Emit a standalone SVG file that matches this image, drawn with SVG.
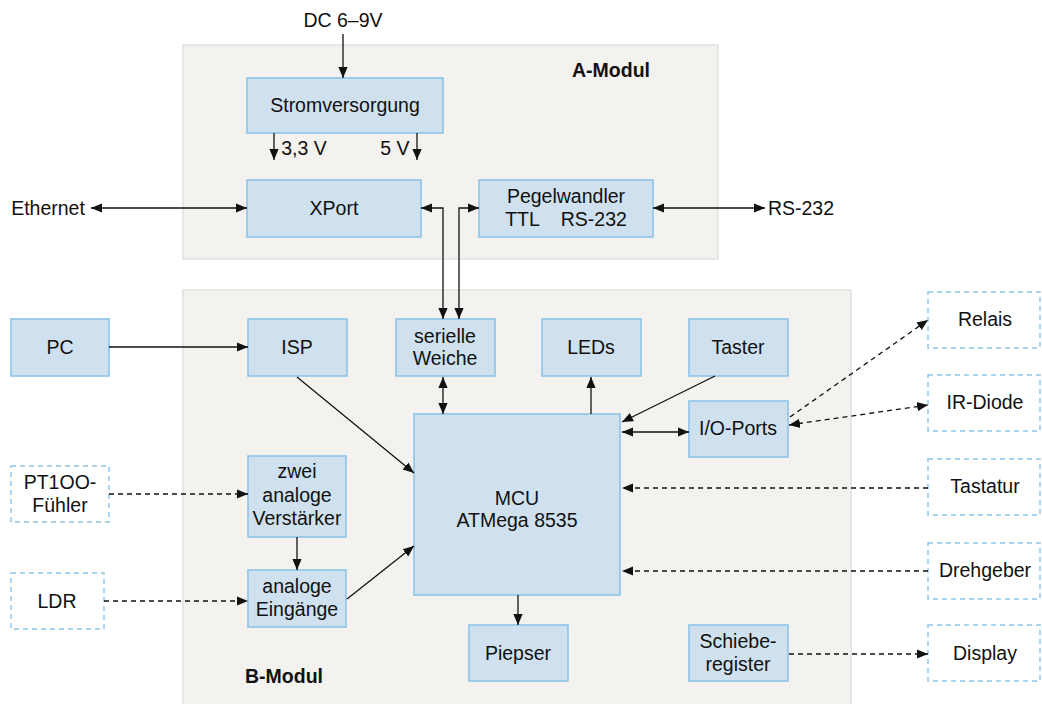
<svg xmlns="http://www.w3.org/2000/svg" width="1042" height="704" viewBox="0 0 1042 704">
  <defs>
    <marker id="arr" viewBox="0 0 10 10" refX="10" refY="5" markerWidth="11" markerHeight="11" markerUnits="userSpaceOnUse" orient="auto-start-reverse">
      <path d="M0,0.8 L10,5 L0,9.2 Z" fill="#111"/>
    </marker>
  </defs>
  <style>
    .panel { fill: #f3f2ef; stroke: #e2e1dd; stroke-width: 1.5; }
    .box { fill: #cfe1ef; stroke: #8cc4e8; stroke-width: 1.6; }
    .ext { fill: #ffffff; stroke: #8cc4e8; stroke-width: 1.4; stroke-dasharray: 5 4; }
    .t { font-family: "Liberation Sans", Arial, sans-serif; font-size: 19.5px; fill: #111; text-anchor: middle; }
    .b { font-family: "Liberation Sans", Arial, sans-serif; font-size: 19.5px; font-weight: bold; fill: #111; }
    .ln { fill: none; stroke: #111; stroke-width: 1.3; }
    .dash { stroke-dasharray: 5 4; }
  </style>

  <!-- module panels -->
  <rect class="panel" x="183" y="45" width="535" height="214"/>
  <rect class="panel" x="183" y="290" width="668" height="420"/>
  <text class="b" x="572" y="77">A-Modul</text>
  <text class="b" x="245" y="683">B-Modul</text>

  <!-- A-Modul nodes -->
  <g id="dc"><text class="t" x="343" y="27">DC 6–9V</text></g>
  <g id="strom"><rect class="box" x="247" y="78" width="196" height="55"/><text class="t" x="345" y="112">Stromversorgung</text></g>
  <g id="v33"><text class="t" x="304" y="155">3,3 V</text></g>
  <g id="v5"><text class="t" x="395" y="155">5 V</text></g>
  <g id="xport"><rect class="box" x="247" y="180" width="174" height="57"/><text class="t" x="334" y="215">XPort</text></g>
  <g id="pegel"><rect class="box" x="479" y="180" width="174" height="57"/><text class="t" x="566" y="203">Pegelwandler</text><text class="t" x="566" y="226" xml:space="preserve">TTL    RS-232</text></g>
  <g id="ethernet"><text class="t" x="48" y="215">Ethernet</text></g>
  <g id="rs232"><text class="t" x="801" y="215">RS-232</text></g>

  <!-- B-Modul nodes -->
  <g id="pc"><rect class="box" x="11" y="319" width="98" height="57"/><text class="t" x="60" y="354">PC</text></g>
  <g id="isp"><rect class="box" x="248" y="319" width="99" height="57"/><text class="t" x="297" y="354">ISP</text></g>
  <g id="weiche"><rect class="box" x="396" y="319" width="99" height="57"/><text class="t" x="445" y="343">serielle</text><text class="t" x="445" y="365">Weiche</text></g>
  <g id="leds"><rect class="box" x="542" y="319" width="99" height="57"/><text class="t" x="591" y="354">LEDs</text></g>
  <g id="taster"><rect class="box" x="689" y="319" width="99" height="57"/><text class="t" x="738" y="354">Taster</text></g>
  <g id="ioports"><rect class="box" x="689" y="401" width="99" height="56"/><text class="t" x="738" y="435">I/O-Ports</text></g>
  <g id="mcu"><rect class="box" x="414" y="414" width="206" height="181"/><text class="t" x="517" y="505">MCU</text><text class="t" x="517" y="527">ATMega 8535</text></g>
  <g id="verst"><rect class="box" x="248" y="456" width="98" height="81"/><text class="t" x="297" y="478">zwei</text><text class="t" x="297" y="502">analoge</text><text class="t" x="297" y="525">Verstärker</text></g>
  <g id="eing"><rect class="box" x="248" y="570" width="98" height="57"/><text class="t" x="297" y="593">analoge</text><text class="t" x="297" y="616">Eingänge</text></g>
  <g id="piepser"><rect class="box" x="469" y="625" width="99" height="56"/><text class="t" x="518" y="660">Piepser</text></g>
  <g id="schiebe"><rect class="box" x="689" y="625" width="99" height="56"/><text class="t" x="738" y="648">Schiebe-</text><text class="t" x="738" y="671">register</text></g>

  <!-- external parts -->
  <g id="pt100"><rect class="ext" x="11" y="466" width="98" height="56"/><text class="t" x="60" y="489">PT1OO-</text><text class="t" x="60" y="512">Fühler</text></g>
  <g id="ldr"><rect class="ext" x="11" y="573" width="93" height="56"/><text class="t" x="57" y="608">LDR</text></g>
  <g id="relais"><rect class="ext" x="928" y="292" width="112" height="56"/><text class="t" x="985" y="326">Relais</text></g>
  <g id="irdiode"><rect class="ext" x="928" y="375" width="112" height="56"/><text class="t" x="985" y="409">IR-Diode</text></g>
  <g id="tastatur"><rect class="ext" x="928" y="459" width="112" height="56"/><text class="t" x="985" y="493">Tastatur</text></g>
  <g id="drehgeber"><rect class="ext" x="928" y="543" width="112" height="56"/><text class="t" x="985" y="577">Drehgeber</text></g>
  <g id="display"><rect class="ext" x="928" y="625" width="112" height="56"/><text class="t" x="985" y="660">Display</text></g>

  <!-- connectors -->
  <g id="connectors">
    <path class="ln" d="M343,34 V78" marker-end="url(#arr)"/>
    <path class="ln" d="M274,133 V160" marker-end="url(#arr)"/>
    <path class="ln" d="M417,133 V160" marker-end="url(#arr)"/>
    <path class="ln" d="M91,208 H247" marker-start="url(#arr)" marker-end="url(#arr)"/>
    <path class="ln" d="M653,208 H765" marker-start="url(#arr)" marker-end="url(#arr)"/>
    <path class="ln" d="M421,208 H443 V319" marker-start="url(#arr)" marker-end="url(#arr)"/>
    <path class="ln" d="M479,208 H459 V319" marker-start="url(#arr)" marker-end="url(#arr)"/>
    <path class="ln" d="M109,347 H248" marker-end="url(#arr)"/>
    <path class="ln" d="M297,377 L414,473" marker-end="url(#arr)"/>
    <path class="ln" d="M347,599 L414,546" marker-end="url(#arr)"/>
    <path class="ln" d="M297,537 V570" marker-end="url(#arr)"/>
    <path class="ln dash" d="M109,494 H248" marker-end="url(#arr)"/>
    <path class="ln dash" d="M104,601 H248" marker-end="url(#arr)"/>
    <path class="ln" d="M443,377 V414" marker-start="url(#arr)" marker-end="url(#arr)"/>
    <path class="ln" d="M591,414 V377" marker-end="url(#arr)"/>
    <path class="ln" d="M715,376 L622,422" marker-end="url(#arr)"/>
    <path class="ln" d="M622,432 H689" marker-start="url(#arr)" marker-end="url(#arr)"/>
    <path class="ln dash" d="M790,417 L928,320" marker-end="url(#arr)"/>
    <path class="ln dash" d="M789,425 L928,405" marker-start="url(#arr)" marker-end="url(#arr)"/>
    <path class="ln dash" d="M928,488 H622" marker-end="url(#arr)"/>
    <path class="ln dash" d="M928,571 H622" marker-end="url(#arr)"/>
    <path class="ln dash" d="M789,654 H928" marker-end="url(#arr)"/>
    <path class="ln" d="M518,595 V625" marker-end="url(#arr)"/>
  </g>
</svg>
